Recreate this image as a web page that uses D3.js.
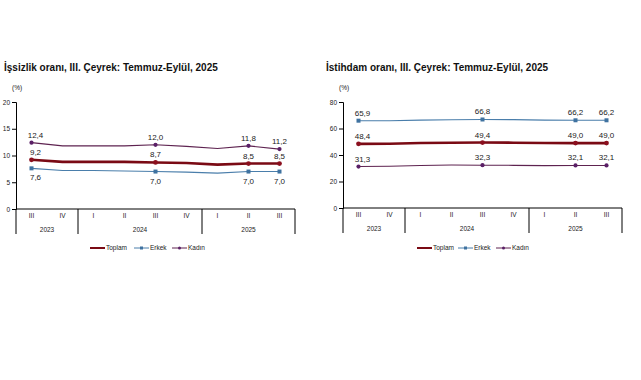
<!DOCTYPE html>
<html><head><meta charset="utf-8">
<script src="https://cdn.jsdelivr.net/npm/d3@7"></script>
<style>body{margin:0;background:#fff}svg{display:block}</style>
</head><body>
<script>
// ---- data ----
const quarters = ["III","IV","I","II","III","IV","I","II","III"];
const yearLabels = ["2023","2024","2025"];
const yearSpans = [2,4,3];
const labeledIdx = [0,4,7,8];
const seriesNames = ["Toplam","Erkek","Kadın"];

const unempTitle = "İşsizlik oranı, III. Çeyrek: Temmuz-Eylül, 2025";
const unempTicks = [0,5,10,15,20];
const unempToplam = [9.2,8.8,8.8,8.8,8.7,8.6,8.3,8.5,8.5];
const unempErkek  = [7.6,7.2,7.2,7.1,7.0,6.9,6.7,7.0,7.0];
const unempKadin  = [12.4,11.8,11.8,11.8,12.0,11.7,11.3,11.8,11.2];

const empTitle = "İstihdam oranı, III. Çeyrek: Temmuz-Eylül, 2025";
const empTicks = [0,20,40,60,80];
const empToplam = [48.4,48.5,49.0,49.3,49.4,49.3,49.0,49.0,49.0];
const empErkek  = [65.9,65.9,66.3,66.6,66.8,66.7,66.3,66.2,66.2];
const empKadin  = [31.3,31.5,32.1,32.4,32.3,32.2,32.0,32.1,32.1];

// ---- drawing ----
const W = 641, H = 380;
const svg = d3.select("body").append("svg").attr("width", W).attr("height", H)
  .style("font-family", "'Liberation Sans', Arial, sans-serif");

const colors = {Toplam:"#7a0a14", Erkek:"#4a7eab", Kadın:"#5e2350"};
const markerCol = {Toplam:"#8b0f1e", Erkek:"#3f72a0", Kadın:"#5a1f66"};
const widths = {Toplam:2.6, Erkek:1.1, Kadın:1.1};
const fmt = v => d3.format(".1f")(v).replace(".", ",");

function panel(o) {
  const g = svg.append("g");
  const x = d3.scaleBand().domain(d3.range(quarters.length)).range([o.x0, o.x1]).paddingInner(0).paddingOuter(0);
  const y = d3.scaleLinear().domain([0, o.ticks[o.ticks.length-1]]).range([o.yb, o.yt]);

  g.append("text").attr("x", o.titleX).attr("y", 71).attr("font-size", 10).attr("font-weight", "bold")
    .attr("fill", "#111").text(o.title);
  g.append("text").attr("x", o.x0 - 4).attr("y", 90).attr("font-size", 6.5).attr("fill", "#222").text("(%)");

  // y axis
  const ya = g.append("g").attr("transform", `translate(${o.x0},0)`)
    .call(d3.axisLeft(y).tickValues(o.ticks).tickSize(4).tickPadding(2));
  ya.select(".domain").attr("stroke", "#000");
  ya.selectAll(".tick line").attr("stroke", "#000");
  ya.selectAll("text").attr("font-size", 6.5).attr("fill", "#222").style("font-family", "'Liberation Sans', Arial, sans-serif");

  // x axis
  const xa = g.append("g").attr("transform", `translate(0,${o.yb})`)
    .call(d3.axisBottom(x).tickSize(0).tickPadding(4).tickFormat(i => quarters[i]));
  xa.select(".domain").attr("stroke", "#000").attr("d", `M${o.x0},0H${o.x1}`);
  xa.selectAll("text").attr("font-size", 6.5).attr("fill", "#222").style("font-family", "'Liberation Sans', Arial, sans-serif");

  // year dividers and labels
  let acc = 0;
  const bounds = [0];
  yearSpans.forEach(s => { acc += s; bounds.push(acc); });
  bounds.forEach(b => {
    const bx = b < quarters.length ? x(b) : o.x1;
    g.append("line").attr("x1", bx).attr("x2", bx).attr("y1", o.yb).attr("y2", o.yb + 25)
      .attr("stroke", "#000").attr("stroke-width", 1);
  });
  yearLabels.forEach((lab, i) => {
    const a = x(bounds[i]);
    const b = bounds[i+1] < quarters.length ? x(bounds[i+1]) : o.x1;
    g.append("text").attr("x", (a+b)/2).attr("y", o.yb + 23).attr("text-anchor", "middle")
      .attr("font-size", 6.5).attr("fill", "#222").text(lab);
  });

  const cx = i => x(i) + x.bandwidth()/2;
  const line = d3.line().x((d,i) => cx(i)).y(d => y(d));

  o.series.forEach((vals, si) => {
    const name = seriesNames[si];
    g.append("path").datum(vals).attr("d", line).attr("fill", "none")
      .attr("stroke", colors[name]).attr("stroke-width", widths[name]);
    labeledIdx.forEach(i => {
      const px = cx(i), py = y(vals[i]);
      if (name === "Erkek") {
        g.append("rect").attr("x", px-2).attr("y", py-2).attr("width", 4).attr("height", 4).attr("fill", markerCol[name]);
      } else {
        g.append("circle").attr("cx", px).attr("cy", py).attr("r", name === "Toplam" ? 2.4 : 2.1).attr("fill", markerCol[name]);
      }
      const below = o.below.includes(name);
      const dx = i === 0 ? 4 : 0;
      g.append("text").attr("x", px + dx).attr("y", below ? py + 12 : py - 5)
        .attr("text-anchor", "middle").attr("font-size", 8).attr("fill", "#222").text(fmt(vals[i]));
    });
  });

  // legend
  o.legendX.forEach((lx, si) => {
    const name = seriesNames[si];
    const ly = 248;
    g.append("line").attr("x1", lx).attr("x2", lx + 15).attr("y1", ly).attr("y2", ly)
      .attr("stroke", colors[name]).attr("stroke-width", name === "Toplam" ? 2 : 1);
    if (name === "Erkek") g.append("rect").attr("x", lx+6).attr("y", ly-1.5).attr("width", 3).attr("height", 3).attr("fill", markerCol[name]);
    if (name === "Kadın") g.append("circle").attr("cx", lx+7.5).attr("cy", ly).attr("r", 1.5).attr("fill", markerCol[name]);
    g.append("text").attr("x", lx + 16).attr("y", ly + 2.3).attr("font-size", 6.5).attr("fill", "#222").text(name);
  });
}

panel({title: unempTitle, titleX: 4, x0: 16, x1: 295, yb: 209, yt: 102, ticks: unempTicks,
  series: [unempToplam, unempErkek, unempKadin], below: ["Erkek"], legendX: [90, 134, 172]});
panel({title: empTitle, titleX: 326, x0: 343, x1: 622, yb: 208, yt: 102, ticks: empTicks,
  series: [empToplam, empErkek, empKadin], below: [], legendX: [417, 458, 496]});
</script>
</body></html>
